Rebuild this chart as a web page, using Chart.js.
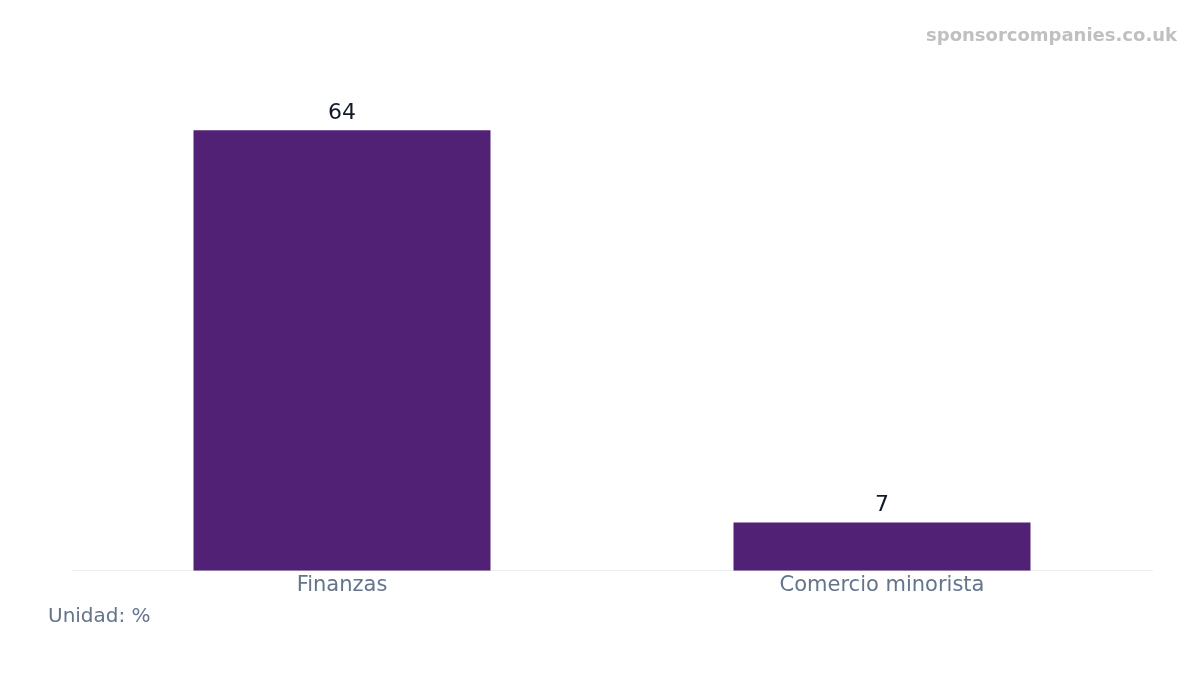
<!DOCTYPE html>
<html>
<head>
<meta charset="utf-8">
<script src="https://cdn.jsdelivr.net/npm/chart.js@4"></script>
<style>
  body { margin: 0; background: #fff; }
</style>
</head>
<body>
<canvas id="chart" width="1200" height="675"></canvas>
<script>
const categories = ['Finanzas', 'Comercio minorista'];
const values = [64, 7];
const unitLabel = 'Unidad: %';
const watermark = 'sponsorcompanies.co.uk';

// value labels, unit note and watermark
const extras = {
  id: 'extras',
  afterDatasetsDraw(chart) {
    const ctx = chart.ctx;
    const meta = chart.getDatasetMeta(0);
    ctx.save();
    ctx.font = '22px "DejaVu Sans"';
    ctx.fillStyle = '#111827';
    ctx.textAlign = 'center';
    ctx.textBaseline = 'bottom';
    meta.data.forEach((bar, i) => {
      ctx.fillText(values[i], bar.x, bar.y - 6);
    });
    ctx.font = '20px "DejaVu Sans"';
    ctx.fillStyle = '#64748b';
    ctx.textAlign = 'left';
    ctx.textBaseline = 'middle';
    ctx.fillText(unitLabel, 48, 617);
    ctx.font = 'bold 18px "DejaVu Sans"';
    ctx.fillStyle = '#c0c0c0';
    ctx.textAlign = 'right';
    ctx.fillText(watermark, 1177, 36);
    ctx.restore();
  }
};

new Chart(document.getElementById('chart').getContext('2d'), {
  type: 'bar',
  data: {
    labels: categories,
    datasets: [{
      data: values,
      backgroundColor: '#512175',
      categoryPercentage: 1,
      barPercentage: 0.55
    }]
  },
  options: {
    responsive: false,
    animation: false,
    devicePixelRatio: 1,
    layout: { padding: { left: 72, right: 48, top: 89, bottom: 83 } },
    plugins: { legend: { display: false }, tooltip: { enabled: false } },
    scales: {
      x: {
        grid: { display: false },
        border: { color: '#eeeeee' },
        ticks: { color: '#64748b', font: { family: 'DejaVu Sans', size: 21 }, padding: -6 }
      },
      y: {
        display: false,
        min: 0,
        max: 70
      }
    }
  },
  plugins: [extras]
});
</script>
</body>
</html>
